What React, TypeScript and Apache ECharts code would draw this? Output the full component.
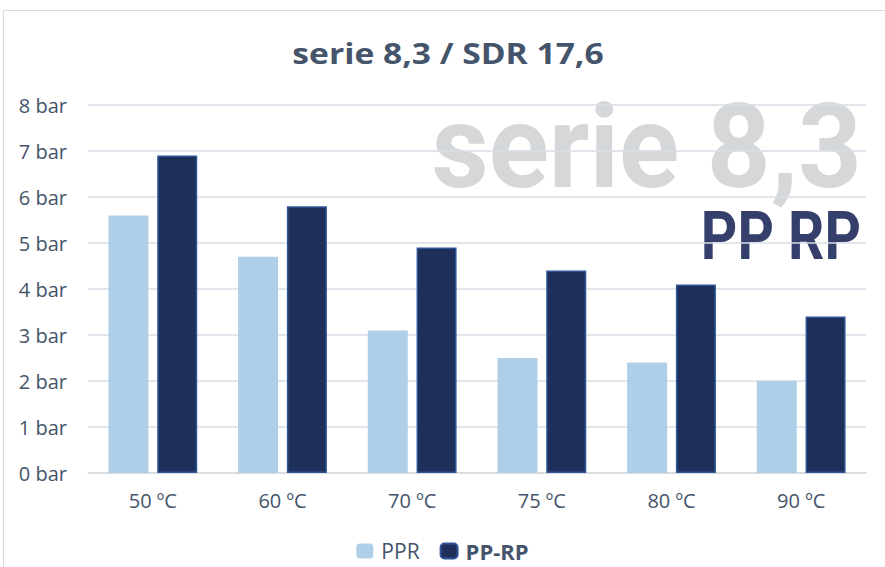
import React, { useEffect, useRef } from "react";
import * as echarts from "echarts";

const categories = ["50 ºC", "60 ºC", "70 ºC", "75 ºC", "80 ºC", "90 ºC"];
const pprValues = [5.6, 4.7, 3.1, 2.5, 2.4, 2.0];
const pprpValues = [6.9, 5.8, 4.9, 4.4, 4.1, 3.4];
const seriesNames = ["PPR", "PP-RP"];
const titleText = "serie 8,3 / SDR 17,6";
const watermark1 = "serie 8,3";
const watermark2 = "PP RP";

const FONT = "'Open Sans', Lato, sans-serif";
const WFONT = "Roboto, 'Liberation Sans', sans-serif";
const TEXT = "#44546A";

export default function App() {
  const ref = useRef<HTMLDivElement>(null);
  useEffect(() => {
    if (!ref.current) return;
    const chart = echarts.init(ref.current, null, { renderer: "svg" });
    chart.setOption({
      animation: false,
      backgroundColor: "#fff",
      graphic: [
        {
          type: "rect",
          z: -20,
          shape: { x: 3.5, y: 10.5, width: 900, height: 600 },
          style: { fill: "none", stroke: "#D9D9D9", lineWidth: 1 },
        },
        {
          type: "text",
          z: 10,
          x: 448,
          y: 53,
          scaleX: 1.2,
          style: {
            text: titleText,
            align: "center",
            verticalAlign: "middle",
            fontFamily: FONT,
            fontWeight: "bold",
            fontSize: 28,
            fill: TEXT,
          },
        },
        {
          type: "text",
          z: -10,
          x: 862,
          y: 148,
          scaleX: 0.96,
          style: {
            text: watermark1,
            align: "right",
            verticalAlign: "middle",
            fontFamily: WFONT,
            fontWeight: "bold",
            fontSize: 116,
            fill: "#D6D7D9",
          },
        },
        {
          type: "text",
          z: -10,
          x: 861,
          y: 236,
          scaleX: 0.86,
          style: {
            text: watermark2,
            align: "right",
            verticalAlign: "middle",
            fontFamily: WFONT,
            fontWeight: "bold",
            fontSize: 66,
            fill: "#353F6B",
          },
        },
      ],
      legend: {
        top: 535,
        left: "center",
        itemWidth: 17,
        itemHeight: 15,
        itemGap: 20,
        textStyle: {
          fontFamily: FONT,
          fontSize: 21,
          color: TEXT,
          padding: [0, 0, 0, 3],
        },
        data: [
          { name: seriesNames[0] },
          { name: seriesNames[1], textStyle: { fontWeight: "bold", fontSize: 22 } },
        ],
      },
      grid: { left: 88, right: 19, top: 105, bottom: 94 },
      xAxis: {
        type: "category",
        data: categories,
        axisLine: { lineStyle: { color: "#D9D9D9", width: 1.5 } },
        axisTick: { show: false },
        axisLabel: { fontFamily: FONT, fontSize: 20, color: TEXT, margin: 17 },
      },
      yAxis: {
        type: "value",
        min: 0,
        max: 8,
        interval: 1,
        axisLabel: {
          fontFamily: FONT,
          fontSize: 20,
          color: TEXT,
          margin: 21,
          formatter: (v: number) => `${v} bar`,
        },
        splitLine: { lineStyle: { color: "#D9DEE6", width: 1.5 } },
        axisLine: { show: false },
        axisTick: { show: false },
      },
      series: [
        {
          name: seriesNames[0],
          type: "bar",
          data: pprValues,
          barWidth: 40,
          barGap: "22%",
          itemStyle: { color: "#AECFE7" },
        },
        {
          name: seriesNames[1],
          type: "bar",
          data: pprpValues,
          barWidth: 40,
          itemStyle: { color: "#1E2F5A", borderColor: "#2E5597", borderWidth: 1.5 },
        },
      ],
    });
    return () => chart.dispose();
  }, []);
  return (
    <div
      ref={ref}
      style={{ position: "fixed", left: 0, top: 0, width: 885, height: 567 }}
    />
  );
}
